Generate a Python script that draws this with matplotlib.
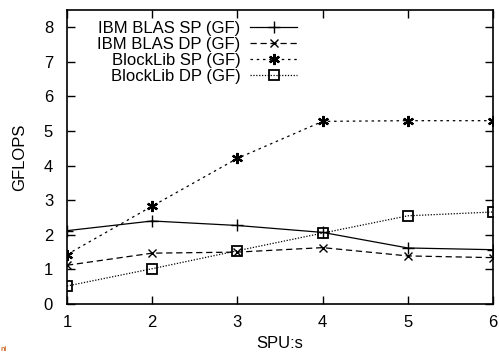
import matplotlib
matplotlib.use("Agg")
import matplotlib.pyplot as plt

plt.rcParams['font.family'] = ['Liberation Sans', 'DejaVu Sans']

spus = [1, 2, 3, 4, 5, 6]
ibm_sp = [2.12, 2.40, 2.27, 2.07, 1.62, 1.57]
ibm_dp = [1.12, 1.47, 1.50, 1.63, 1.39, 1.34]
blk_sp = [1.43, 2.83, 4.21, 5.28, 5.30, 5.30]
blk_dp = [0.52, 1.02, 1.54, 2.05, 2.55, 2.66]
labels = ["IBM BLAS SP (GF)", "IBM BLAS DP (GF)", "BlockLib SP (GF)", "BlockLib DP (GF)"]

fig = plt.figure(figsize=(4.99, 3.53), dpi=100)
ax = fig.add_axes([67/499, 49/353, 426/499, 294/353])

lw = 0.9
ax.plot(spus, ibm_sp, color='black', lw=lw, ls='-', marker='+', ms=8, mew=1.0, label=labels[0])
ax.plot(spus, ibm_dp, color='black', lw=lw, ls=(0, (5, 3)), marker='x', ms=6, mew=1.0, label=labels[1])
ax.plot(spus, blk_sp, color='black', lw=lw, ls=(0, (2, 3)), marker=(6, 2, 0), ms=8, mew=1.6, label=labels[2])
ax.plot(spus, blk_dp, color='black', lw=lw, ls=(0, (1, 1.3)), marker='s', ms=7, mew=1.3, mfc='none', label=labels[3])

ax.set_xlim(1, 6)
ax.set_ylim(0, 8.5)
ax.set_xticks(spus)
ax.set_yticks(range(0, 9))
ax.tick_params(direction='in', top=True, right=True, length=6, width=1, labelsize=12)
ax.tick_params(axis='y', pad=10)
ax.tick_params(axis='x', pad=8)
for s in ax.spines.values():
    s.set_linewidth(1.2)

ax.set_xlabel("SPU:s", fontsize=12, labelpad=4)
ax.set_ylabel("GFLOPS", fontsize=12, labelpad=12)

leg = ax.legend(loc='upper right', bbox_to_anchor=(0.54, 0.962), frameon=False, markerfirst=False,
                handlelength=2.8, fontsize=12, labelspacing=0.05, borderaxespad=0.0, borderpad=0.0,
                handletextpad=0.6)
for t in leg.get_texts():
    t.set_ha('right')
leg._legend_box.align = "right"

fig.text(0.002, 0.005, "ni", color='#d07030', fontsize=5, fontweight='bold')

fig.savefig("out.png", dpi=100)
